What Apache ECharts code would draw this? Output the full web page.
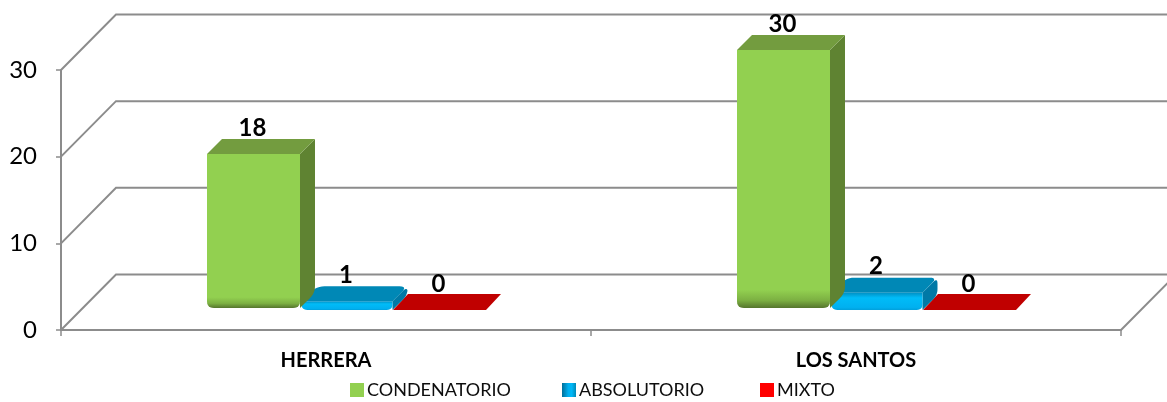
<!DOCTYPE html>
<html><head><meta charset="utf-8">
<style>html,body{margin:0;padding:0;background:#fff}#c{width:1167px;height:402px}</style>
<script src="https://cdn.jsdelivr.net/npm/echarts@6/dist/echarts.min.js"></script>
</head><body><div id="c"></div>
<script>
const categories = ['HERRERA', 'LOS SANTOS'];
const condenatorio = [18, 30];
const absolutorio = [1, 2];
const mixto = [0, 0];
const yTicks = [0, 10, 20, 30];

const FONT = 'Lato';
const WALL = [55, -55.5];     // depth of the chart box
const BASE = [20.5, -20];     // where the bars stand on the floor
const DEPTH = 15;
const BAR_RATIO = 93 / 530;
const LINE = '#8c8c8c';

function roundPoly(pts, r) {
  const out = [], n = pts.length, radii = Array.isArray(r) ? r : pts.map(() => r);
  for (let i = 0; i < n; i++) {
    const p = pts[i], a = pts[(i + n - 1) % n], b = pts[(i + 1) % n], rr = radii[i];
    if (!rr) { out.push(p); continue; }
    const la = Math.hypot(a[0] - p[0], a[1] - p[1]), lb = Math.hypot(b[0] - p[0], b[1] - p[1]);
    const s = [p[0] + (a[0] - p[0]) * rr / la, p[1] + (a[1] - p[1]) * rr / la];
    const e = [p[0] + (b[0] - p[0]) * rr / lb, p[1] + (b[1] - p[1]) * rr / lb];
    for (let k = 0; k <= 6; k++) {
      const t = k / 6, u = 1 - t;
      out.push([u * u * s[0] + 2 * u * t * p[0] + t * t * e[0], u * u * s[1] + 2 * u * t * p[1] + t * t * e[1]]);
    }
  }
  return out;
}
function poly(points, fill) {
  return { type: 'polygon', shape: { points }, style: { fill } };
}
function vGrad(stops) {
  return { type: 'linear', x: 0, y: 0, x2: 0, y2: 1, colorStops: stops.map(s => ({ offset: s[0], color: s[1] })) };
}

function barRenderer(slot, look) {
  return function (params, api) {
    const v = api.value(1);
    const p = api.coord([api.value(0), v]);
    const o = api.coord([api.value(0), 0]);
    const band = api.size([1, 0])[0];
    const w = band * BAR_RATIO;
    const xl = p[0] + BASE[0] + (slot - 1.5) * w + (look.shift || 0);
    const xr = xl + w - (look.shrink || 0);
    const yb = o[1] + BASE[1] - (look.inset || 0);
    const yt = p[1] + BASE[1];
    const kids = [];
    if (v > 0) {
      const r = look.r;
      kids.push(poly(roundPoly([[xr, yt], [xr + DEPTH, yt - DEPTH], [xr + DEPTH, yb - DEPTH], [xr, yb]], look.rounded ? [0, r, r, 0] : [0, 0, r, 0]), look.side));
      kids.push(poly(roundPoly([[xl, yt], [xl + DEPTH, yt - DEPTH], [xr + DEPTH, yt - DEPTH], [xr, yt]], look.rounded ? [2, r + 2, r + 2, 0] : 0), look.top));
      kids.push(poly(roundPoly([[xl, yt], [xr, yt], [xr, yb], [xl, yb]], [look.topR || 0, 0, r, r]), look.front));
    } else {
      kids.push(poly([[xl, yb], [xl + DEPTH, yb - DEPTH - 1], [xr + DEPTH, yb - DEPTH - 1], [xr, yb]], look.flat));
    }
    kids.push({
      type: 'text', x: (xl + xr) / 2 - 1, y: yt - 26,
      style: { text: String(v), font: 'bold 24px ' + FONT, fill: '#000', textAlign: 'center', textVerticalAlign: 'middle' }
    });
    return { type: 'group', children: kids };
  };
}

const looks = {
  green: {
    r: 7, inset: 2,
    front: vGrad([[0, '#92d050'], [0.93, '#92d050'], [0.97, '#7cb042'], [1, '#55752d']]),
    top: '#739c3f', side: '#5f8332'
  },
  blue: {
    r: 6, rounded: true, topR: 2, shift: 1.5, shrink: 2,
    front: vGrad([[0, '#0090c4'], [0.3, '#00bcf8'], [0.85, '#00b0f0'], [1, '#00a0dc']]),
    top: '#0088b6', side: '#0079a6'
  },
  red: { flat: '#c00000', r: 0 }
};

function wallRenderer(params, api) {
  const v = api.value(0);
  const a = api.coord([0, v]);
  const left = a[0] - api.size([1, 0])[0] / 2;
  const right = left + api.size([1, 0])[0] * categories.length;
  const pts = v === 0
    ? [[left, a[1]], [left + WALL[0], a[1] + WALL[1]], [right + WALL[0], a[1] + WALL[1]], [right, a[1]]]
    : [[left, a[1]], [left + WALL[0], a[1] + WALL[1]], [right + WALL[0], a[1] + WALL[1]]];
  return { type: 'polyline', shape: { points: pts }, style: { stroke: LINE, lineWidth: 2, fill: null } };
}

function pairs(values) { return values.map((v, i) => [i, v]); }
function legendAt(name, left, itemStyle) {
  return {
    data: [Object.assign({ name, icon: 'rect' }, itemStyle ? { itemStyle } : {})], left, top: 381, itemWidth: 14, itemHeight: 14, itemGap: 0,
    selectedMode: false, padding: 0,
    textStyle: { fontFamily: FONT, fontSize: 18, color: '#0d0d0d', padding: [0, 0, 0, -2] }
  };
}
const blueIcon = {
  color: { type: 'linear', x: 0, y: 0, x2: 1, y2: 0, colorStops: [
    { offset: 0, color: '#006f99' }, { offset: 0.45, color: '#00b0f0' }, { offset: 0.7, color: '#00b8f8' }, { offset: 1, color: '#0088b6' }
  ] }
};

const chart = echarts.init(document.getElementById('c'), null, { renderer: 'canvas' });
chart.setOption({
  animation: false,
  backgroundColor: '#fff',
  grid: { left: 61, right: 46, top: 70, bottom: 72 },
  legend: [legendAt('CONDENATORIO', 350), legendAt('ABSOLUTORIO', 562, blueIcon), legendAt('MIXTO', 760)],
  xAxis: {
    type: 'category', data: categories,
    axisLine: { show: true, lineStyle: { color: LINE, width: 2 } },
    axisTick: { show: true, alignWithLabel: false, length: 6, lineStyle: { color: LINE, width: 1.5 } },
    axisLabel: { margin: 21, fontFamily: FONT, fontWeight: 'bold', fontSize: 20, color: '#000' }
  },
  yAxis: {
    type: 'value', min: 0, max: 30, interval: 10,
    splitLine: { show: false },
    axisLine: { show: true, lineStyle: { color: LINE, width: 2 } },
    axisTick: { show: true, length: 5, lineStyle: { color: LINE, width: 1.5 } },
    axisLabel: { margin: 24, fontFamily: FONT, fontSize: 24, color: '#000', padding: [8, 0, 0, 0] }
  },
  series: [
    { type: 'custom', name: 'walls', z: 1, silent: true, data: yTicks.map(v => [v]), encode: { y: 0 }, renderItem: wallRenderer, clip: false },
    { type: 'custom', name: 'CONDENATORIO', z: 5, itemStyle: { color: '#92d050' }, data: pairs(condenatorio), encode: { x: 0, y: 1 }, renderItem: barRenderer(0, looks.green) },
    { type: 'custom', name: 'ABSOLUTORIO', z: 4, itemStyle: { color: '#00b0f0' }, data: pairs(absolutorio), encode: { x: 0, y: 1 }, renderItem: barRenderer(1, looks.blue) },
    { type: 'custom', name: 'MIXTO', z: 3, itemStyle: { color: '#ff0000' }, data: pairs(mixto), encode: { x: 0, y: 1 }, renderItem: barRenderer(2, looks.red) }
  ]
});
</script></body></html>
